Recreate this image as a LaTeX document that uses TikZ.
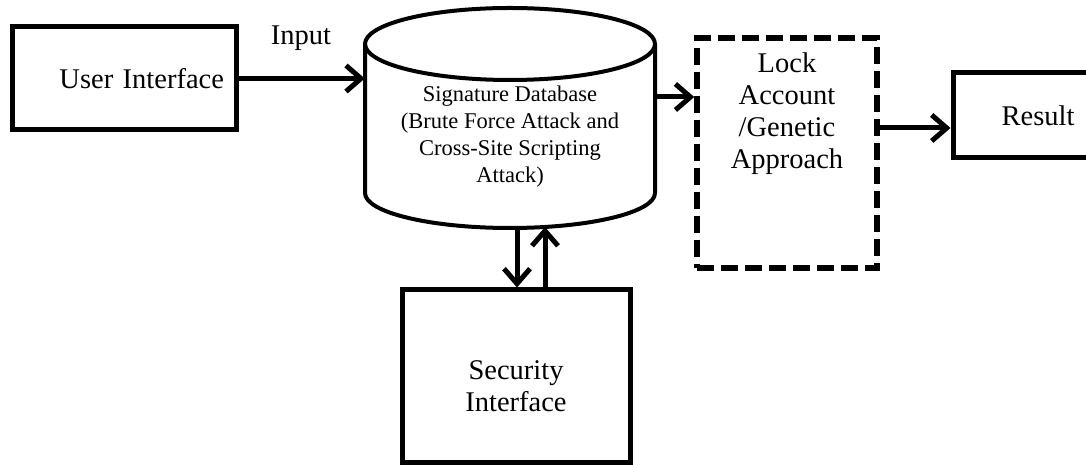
\documentclass[tikz,border=0pt]{standalone}
\usepackage{fontspec}
\setmainfont{Liberation Serif}
\usetikzlibrary{arrows.meta, calc}

\begin{document}
\begin{tikzpicture}[
    x = 1pt, y = 1pt,
    font = \fontsize{28.5}{32}\selectfont,
    flow/.style = {draw, line width = 5pt, -{Straight Barb[length = 15pt, width = 26pt]}}
  ]
  \tikzstyle {box} = [draw, shape = rectangle, line width = 5pt, fill = white, align = center]
  \tikzstyle {lockbox} = [box, line width = 5.5pt, dash pattern = on 17pt off 7pt]
  \tikzstyle {dbline} = [draw, line width = 4pt]
  \useasboundingbox (0,0) rectangle (1086,465);
  % place nodes
  \path node (0) [box, minimum width = 224, minimum height = 103, text width = 200, align = right] at (124,386.5) {User Interface};
  \path node (5) at (301,427) {Input};
  \path node (1) [minimum width = 290, align = center, font = \fontsize{22.5}{27}\selectfont] at (510,328)
    {Signature Database\\(Brute Force Attack and\\Cross-Site Scripting\\Attack)};
  \path node (2) [lockbox, minimum width = 180, minimum height = 230,
    label = {[align = center, anchor = north, yshift = -14pt]north:{Lock\\Account\\/Genetic\\Approach}}] at (787,312) {};
  \path node (3) [box, minimum width = 170, minimum height = 85] at (1038,349.5) {Result};
  \path node (4) [box, minimum width = 228, minimum height = 173,
    label = {[align = center, anchor = center, yshift = -10pt]center:{Security\\Interface}}] at (516,88.5) {};
  % database drum
  \draw [dbline] (510,421) ellipse [x radius = 145, y radius = 36];
  \draw [dbline] (365,421) -- (365,272) arc [start angle = 180, end angle = 360, x radius = 145, y radius = 35] -- (655,421);
  % place edges
  \coordinate (1a) at ($(1.east)+(0,40)$);
  \coordinate (2a) at ($(2.east)+(0,25)$);
  \coordinate (1b) at (517,237);
  \coordinate (1c) at (545,238);
  \draw [flow] (0.east) -- (0.east -| 1.west);
  \draw [flow] (1a) -- (1a -| 2.west);
  \draw [flow] (2a) -- (2a -| 3.west);
  \draw [flow] (1b) -- (1b |- 4.north);
  \draw [flow] (1c |- 4.north) -- (1c);
\end{tikzpicture}
\end{document}
